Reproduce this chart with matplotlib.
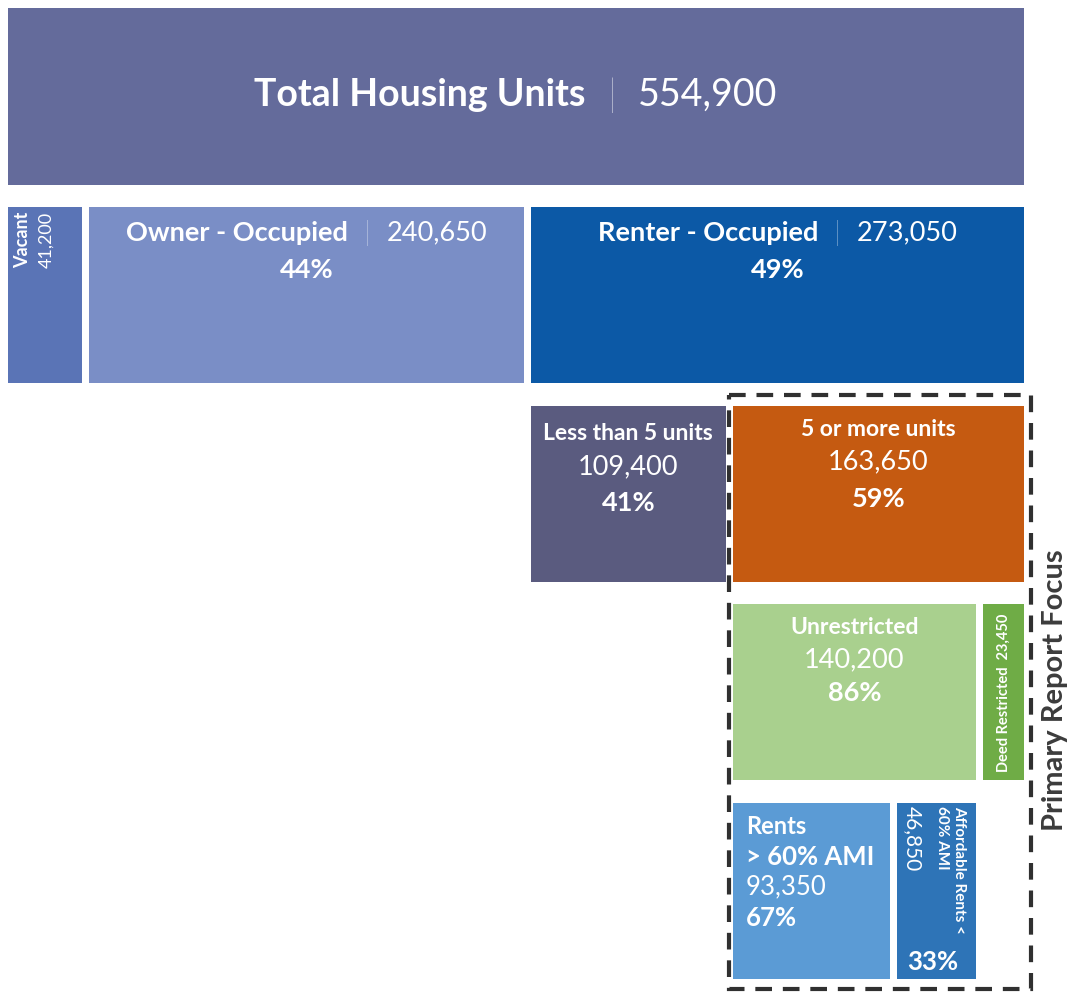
import matplotlib.pyplot as plt
from matplotlib.patches import Rectangle

plt.rcParams['font.family'] = ['Lato', 'DejaVu Sans']

# Housing units breakdown (parents index into the same lists)
names = ['Total Housing Units', 'Vacant', 'Owner - Occupied', 'Renter - Occupied',
         'Less than 5 units', '5 or more units', 'Unrestricted', 'Deed Restricted',
         'Rents > 60% AMI', 'Affordable Rents < 60% AMI']
values = [554900, 41200, 240650, 273050, 109400, 163650, 140200, 23450, 93350, 46850]
parents = [None, 0, 0, 0, 3, 3, 5, 5, 6, 6]
levels = [0, 1, 1, 1, 2, 2, 3, 3, 4, 4]
shares = ['', '', '44%', '49%', '41%', '59%', '86%', '', '67%', '33%']
colors = ['#646b9b', '#5a74b6', '#7a8ec6', '#0c59a6', '#5a5b7f',
          '#c55a11', '#a9d08e', '#6fac46', '#5b9bd5', '#2e74b7']

fig = plt.figure(figsize=(10.75, 9.92), dpi=100)
ax = fig.add_axes([0, 0, 1, 1])
ax.axis('off')

px = 1016 / values[0]      # pixels per housing unit
gap = 7 / px
row_pitch, row_h = 198.75, 176

# split every parent's width among its children
left = {0: 0.0}
width = {0: float(values[0])}
for p in range(len(names)):
    kids = [j for j in range(len(names)) if parents[j] == p]
    if not kids:
        continue
    avail = width[p] - gap * (len(kids) - 1)
    x = left[p]
    for j in kids:
        left[j] = x
        width[j] = avail * values[j] / values[p]
        x += width[j] + gap

n = len(names)
tops = [8 + row_pitch * l for l in levels]
ax.bar([left[i] for i in range(n)], [row_h + (1 if i == 0 else 0) for i in range(n)],
       width=[width[i] for i in range(n)], bottom=tops, align='edge',
       color=colors, edgecolor='none')

ax.set_xlim(-8 / px, 1067 / px)
ax.set_ylim(992, 0)

rend = fig.canvas.get_renderer()


def cx(i):
    return left[i] + width[i] / 2


def run(x, y, parts, size, space):
    # lay out a line of mixed-weight pieces centred on x
    objs = [ax.text(0, y, t, fontsize=size, fontweight=w, color='white',
                    ha='left', va='center') for t, w in parts]
    ws = [o.get_window_extent(rend).width / px for o in objs]
    total = sum(ws) + space / px * (len(ws) - 1)
    x0 = x - total / 2
    for o, w in zip(objs, ws):
        o.set_x(x0)
        x0 += w + space / px


def label(x, y, s, size, weight='normal', **kw):
    ax.text(x, y, s, fontsize=size, fontweight=weight, color='white',
            ha=kw.pop('ha', 'center'), va=kw.pop('va', 'center'), **kw)


# level 0 and 1
run(cx(0), 95, [(names[0], 'bold'), ('|', 'light'), (f'{values[0]:,}', 'normal')], 27, 22)
for i in (2, 3):
    run(cx(i), 233, [(names[i], 'bold'), ('|', 'light'), (f'{values[i]:,}', 'normal')], 19.5, 16)
    label(cx(i), 270, shares[i], 19.5, 'bold')

label(left[1] + 15 / px, 212, names[1], 13, 'bold', rotation=90,
      rotation_mode='anchor', ha='right')
label(left[1] + 38 / px, 212, f'{values[1]:,}', 13, rotation=90,
      rotation_mode='anchor', ha='right')

# level 2
label(cx(4), 433, names[4], 16.5, 'bold')
label(cx(4), 467, f'{values[4]:,}', 19.5)
label(cx(4), 503, shares[4], 19.5, 'bold')
label(cx(5), 429, names[5], 16.5, 'bold')
label(cx(5), 462, f'{values[5]:,}', 19.5)
label(cx(5), 499, shares[5], 19.5, 'bold')

# level 3
label(cx(6), 628, names[6], 16.5, 'bold')
label(cx(6), 660, f'{values[6]:,}', 19.5)
label(cx(6), 693, shares[6], 19.5, 'bold')
label(cx(7), 614, f'{names[7]}  {values[7]:,}', 10.5, 'bold', rotation=90,
      rotation_mode='anchor', ha='right')

# level 4
lx = left[8] + 13 / px
label(lx, 826, 'Rents', 17, 'bold', ha='left')
label(lx, 857, '> 60% AMI', 18.5, 'bold', ha='left')
label(lx, 887, f'{values[8]:,}', 18.5, ha='left')
label(lx, 918, shares[8], 18.5, 'bold', ha='left')

ax.text(left[9] + 62 / px, 806, 'Affordable Rents <', fontsize=11, fontweight='bold',
        color='white', rotation=-90, rotation_mode='anchor', ha='left', va='center')
ax.text(left[9] + 45 / px, 806, '60% AMI', fontsize=11, fontweight='bold',
        color='white', rotation=-90, rotation_mode='anchor', ha='left', va='center')
ax.text(left[9] + 15 / px, 806, f'{values[9]:,}', fontsize=15,
        color='white', rotation=-90, rotation_mode='anchor', ha='left', va='center')
label(cx(9) - 4 / px, 962, shares[9], 18.5, 'bold')

# dashed frame around the primary focus subtree
frame = Rectangle((left[5] - 4 / px, tops[5] - 11), width[5] + 11 / px, 594,
                  fill=False, edgecolor='#303030', linewidth=3,
                  linestyle=(0, (4, 2.6)))
ax.add_patch(frame)
ax.text(1055 / px - 8 / px, 690, 'Primary Report Focus', fontsize=21, fontweight='bold',
        color='#3c3c3c', rotation=90, ha='center', va='center')

fig.savefig('out.png', dpi=100)
